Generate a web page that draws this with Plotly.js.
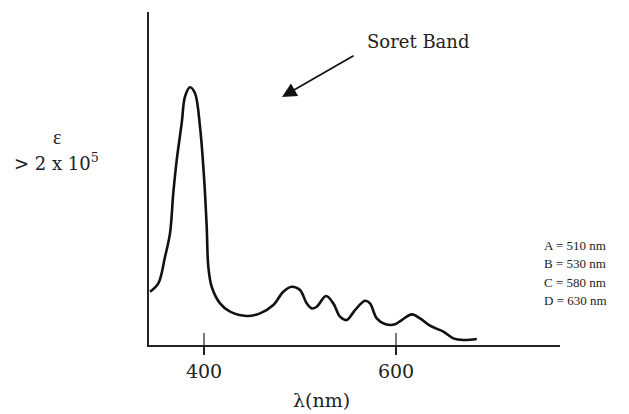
<!DOCTYPE html>
<html>
<head>
<meta charset="utf-8">
<script src="https://cdn.plot.ly/plotly-3.0.1.min.js"></script>
<style>html,body{margin:0;padding:0;background:#fff;}#chart{width:629px;height:414px;}</style>
</head>
<body>
<div id="chart"></div>
<script>
// Wavelength (nm) and relative absorbance (arbitrary units, 0-100 axis)
var wavelength = [343.8, 352.4, 359.4, 364.6, 368.0, 371.6, 376.8, 380.2, 385.4, 390.6, 395.8, 400.0, 402.8, 404.5, 408.0, 416.7, 427.1, 444.5, 458.3, 472.2, 482.6, 491.4, 500.0, 507.0, 512.2, 517.4, 527.1, 534.7, 541.7, 548.6, 557.3, 567.7, 572.9, 579.9, 588.5, 599.0, 606.0, 616.4, 625.0, 635.4, 649.3, 659.7, 670.1, 684.1];
var absorbance = [16.0, 18.5, 26.5, 33.6, 45.6, 55.6, 66.7, 74.6, 77.4, 75.6, 65.6, 50.5, 35.5, 23.5, 17.5, 12.5, 10.0, 8.7, 9.5, 12.0, 16.0, 17.5, 16.5, 12.5, 11.0, 11.5, 14.7, 12.5, 8.5, 7.5, 10.5, 13.3, 12.5, 8.0, 6.3, 6.2, 7.5, 9.2, 8.0, 5.8, 4.0, 2.0, 1.5, 1.8];
var tickValues = [400, 600];
var tickLabels = ['400', '600'];
var bandLabels = ['A = 510 nm', 'B = 530 nm', 'C = 580 nm', 'D = 630 nm'];
var xTitle = 'λ(nm)';
var yLabelTop = 'ε';
var yLabelBottom = '&gt; 2 x 10<sup>5</sup>';
var soretLabel = 'Soret Band';

var serif = 'Liberation Serif, Times New Roman, serif';
var wideSerif = 'DejaVu Serif, serif';
var annotations = [
  {xref:'paper', yref:'paper', x:-0.224, y:0.625, xanchor:'center', yanchor:'middle', text:yLabelTop, showarrow:false, font:{family:serif, size:20, color:'#222'}},
  {xref:'paper', yref:'paper', x:-0.224, y:0.55, xanchor:'center', yanchor:'middle', text:yLabelBottom, showarrow:false, font:{family:wideSerif, size:18, color:'#222'}},
  {xref:'paper', yref:'paper', x:0.654, y:0.91, xanchor:'center', yanchor:'middle', text:soretLabel, showarrow:false, font:{family:wideSerif, size:18, color:'#222'}},
  {xref:'paper', yref:'paper', x:0.3236, y:0.745, text:'', showarrow:true, ax:73, ay:-42, arrowhead:2, arrowsize:1.7, arrowwidth:1.7, arrowcolor:'#111'},
  {xref:'paper', yref:'paper', x:0.42, y:-0.165, xanchor:'center', yanchor:'middle', text:xTitle, showarrow:false, font:{family:wideSerif, size:19, color:'#222'}}
];
bandLabels.forEach(function(t, i){
  annotations.push({xref:'paper', yref:'paper', x:0.956, xanchor:'left', yanchor:'middle', y:0.3 - i*0.0555, text:t, showarrow:false, font:{family:serif, size:13, color:'#222'}});
});
var shapes = tickValues.map(function(v){
  return {type:'line', xref:'x', yref:'paper', x0:v, x1:v, y0:0, y1:0.036, line:{color:'#222', width:1.2}};
});

Plotly.newPlot('chart', [{
  x: wavelength, y: absorbance, type:'scatter', mode:'lines',
  line:{color:'#111', width:2.6, shape:'spline', smoothing:1.0}, hoverinfo:'skip'
}], {
  width:629, height:414,
  margin:{l:149, r:69, t:12, b:69},
  paper_bgcolor:'#fff', plot_bgcolor:'#fff',
  showlegend:false,
  xaxis:{range:[342.7, 770.8], showgrid:false, zeroline:false, showline:true, linecolor:'#222', linewidth:2,
    tickmode:'array', tickvals:tickValues, ticktext:tickLabels, ticks:'outside', ticklen:8, tickwidth:1.2, tickcolor:'#222',
    tickfont:{family:wideSerif, size:19, color:'#222'}},
  yaxis:{range:[0, 100], showgrid:false, zeroline:false, showline:true, linecolor:'#222', linewidth:2,
    showticklabels:false, ticks:''},
  annotations: annotations,
  shapes: shapes
}, {staticPlot:true});
</script>
</body>
</html>
